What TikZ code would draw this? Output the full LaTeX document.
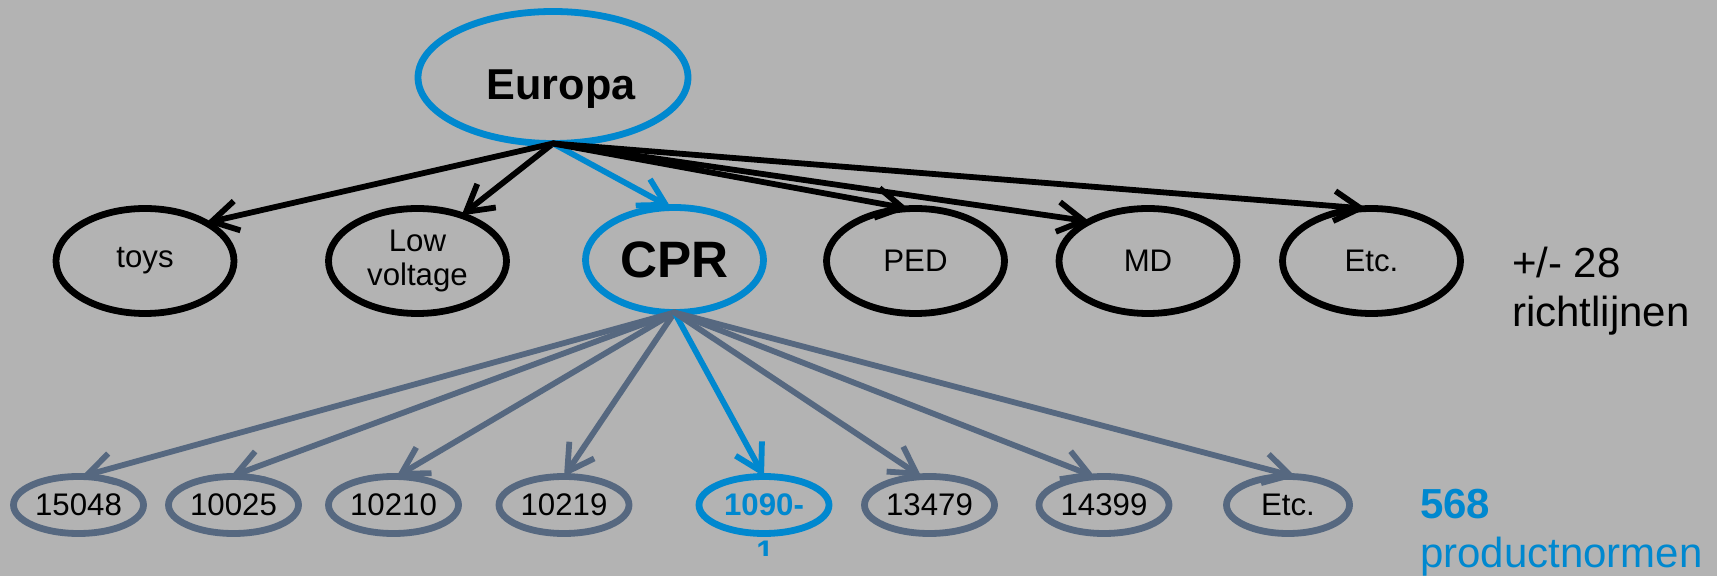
\documentclass[tikz,border=0pt]{standalone}
\usepackage{fontspec}
\setmainfont{Liberation Sans}
\usepackage{xcolor}
\usepackage{tikz}
\usetikzlibrary{positioning,arrows.meta,shapes.geometric}
\definecolor{bggrey}{RGB}{179,179,179}
\definecolor{eublue}{RGB}{0,136,207}
\definecolor{slate}{RGB}{86,104,128}

\begin{document}
\begin{tikzpicture}[x=0.5pt,y=-0.5pt,
  every node/.style={ellipse,draw,line width=3.4pt,inner sep=0pt,outer sep=0pt},
  dirnode/.style={minimum width=89pt,minimum height=52.5pt,align=center,
    font=\fontsize{15.6}{16.7}\selectfont},
  normnode/.style={draw=slate,minimum width=65pt,minimum height=28.5pt,
    font=\fontsize{15.6}{18}\selectfont},
  plain/.style={draw=none,shape=rectangle,inner sep=0pt},
  arr/.style={-{Straight Barb[length=13pt,width=15pt]},line width=2.9pt,line cap=round}]
  \fill[bggrey] (0,0) rectangle (1717,576);
  \useasboundingbox (0,0) rectangle (1717,576);
  \node[draw=eublue,minimum width=135pt,minimum height=66pt,text height=22pt,text depth=0pt,
    font=\bfseries\fontsize{21.6}{26}\selectfont] (eu) at (553,77.5) {\hspace*{8pt}Europa};
  % richtlijnen
  \node[dirnode] (toys) at (145,261) {toys};
  \node[dirnode] (lv) at (417.5,261) {Low\\voltage};
  \node[dirnode,draw=eublue,font=\bfseries\fontsize{25.6}{30}\selectfont] (cpr) at (674.5,260) {CPR};
  \node[dirnode] (ped) at (915.5,261) {PED};
  \node[dirnode] (md) at (1148,261) {MD};
  \node[dirnode] (etc) at (1371.5,261) {Etc.};
  \node[plain,anchor=base west,align=left,font=\fontsize{21}{24.5}\selectfont] (rl) at (1512,327) {+/- 28\\richtlijnen};
  % productnormen
  \node[normnode] (a) at (78.5,505) {15048};
  \node[normnode] (b) at (233.5,505) {10025};
  \node[normnode] (c) at (393.5,505) {10210};
  \node[normnode] (d) at (564,505) {10219};
  \node[normnode,draw=eublue,text=eublue,font=\bfseries\fontsize{15.6}{18}\selectfont] (e) at (764,505) {1090-};
  \node[normnode] (f) at (929.5,505) {13479};
  \node[normnode] (g) at (1104,505) {14399};
  \node[normnode,minimum width=61.5pt] (h) at (1288,505) {Etc.};
  \begin{scope}
    \clip (740,539) rectangle (790,555);
    \node[plain,anchor=base,text=eublue,font=\bfseries\fontsize{15.6}{18}\selectfont] (one) at (765,562) {1};
  \end{scope}
  \node[plain,anchor=base west,align=left,text=eublue,font=\fontsize{21}{24.5}\selectfont] (pn) at (1420,567) {\textbf{568}\\productnormen};
  % arrows
  \draw[arr] (eu.south) -- (toys.32);
  \draw[arr] (eu.south) -- (lv.46);
  \draw[arr,eublue] (eu.south) -- (cpr.94);
  \draw[arr] (eu.south) -- (ped.98);
  \draw[arr] (eu.south) -- (md.146);
  \draw[arr] (eu.south) -- (etc.96);
  \draw[arr,slate] (cpr.south) -- (a.84);
  \draw[arr,slate] (cpr.south) -- (b.96);
  \draw[arr,slate] (cpr.south) -- (c.84);
  \draw[arr,slate] (cpr.south) -- (d.90);
  \draw[arr,eublue] (cpr.south) -- (e.90);
  \draw[arr,slate] (cpr.south) -- (f.106);
  \draw[arr,slate] (cpr.south) -- (g.108);
  \draw[arr,slate] (cpr.south) -- (h.75);
\end{tikzpicture}
\end{document}
